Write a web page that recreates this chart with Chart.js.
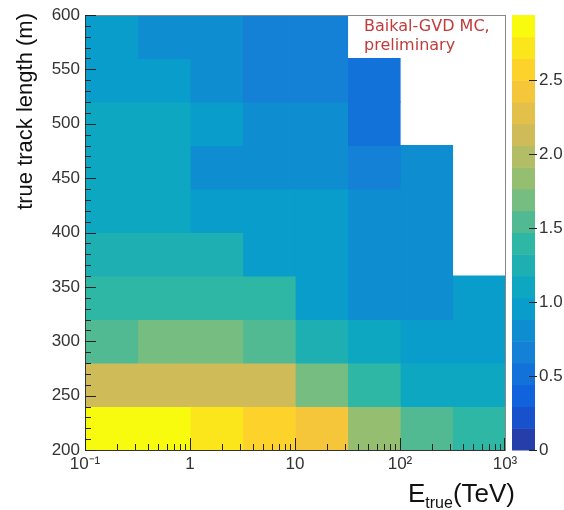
<!DOCTYPE html>
<html><head><meta charset="utf-8">
<script src="https://cdn.jsdelivr.net/npm/chart.js@4.4.1/dist/chart.umd.min.js"></script>
<style>html,body{margin:0;padding:0;background:#fff;}#wrap{width:564px;height:510px;}</style>
</head><body><div id="wrap"><canvas id="c" width="564" height="510"></canvas></div>
<script>
// ---- data ----
const energyEdges = [0.1, 0.316, 1, 3.16, 10, 31.6, 100, 316, 1000];
const lengthEdges = [200, 240, 280, 320, 360, 400, 440, 480, 520, 560, 600];
const rowLabels = ['200-240','240-280','280-320','320-360','360-400','400-440','440-480','480-520','520-560','560-600'];
// rows bottom-up, columns left-right (energy bins); null = empty
const row200 = [2.92, 2.90, 2.75, 2.60, 2.40, 1.90, 1.50, 1.35];
const row240 = [2.20, 2.20, 2.20, 2.20, 1.70, 1.35, 1.10, 1.10];
const row280 = [1.55, 1.70, 1.70, 1.55, 1.25, 1.10, 0.95, 0.95];
const row320 = [1.40, 1.40, 1.40, 1.40, 0.95, 0.80, 0.80, 0.95];
const row360 = [1.30, 1.30, 1.30, 1.00, 0.90, 0.80, 0.80, null];
const row400 = [1.15, 1.15, 1.00, 0.95, 0.90, 0.80, 0.80, null];
const row440 = [1.10, 1.05, 0.85, 0.85, 0.80, 0.65, 0.80, null];
const row480 = [1.05, 1.05, 0.95, 0.85, 0.80, 0.55, null, null];
const row520 = [1.00, 0.95, 0.80, 0.70, 0.60, 0.55, null, null];
const row560 = [0.95, 0.80, 0.80, 0.70, 0.60, null, null, null];
const cellRows = [row200, row240, row280, row320, row360, row400, row440, row480, row520, row560];

const yTickValues = [200, 250, 300, 350, 400, 450, 500, 550, 600];
const xTickValues = [0.1, 1, 10, 100, 1000];
const xTickLabels = ['10\u207B\u00B9', '1', '10', '10\u00B2', '10\u00B3'];
const zTickValues = [0, 0.5, 1, 1.5, 2, 2.5];
const zMax = 2.94;
const nContours = 20;

// ---- ROOT kBird palette ----
const birdStops = [0.0, 0.125, 0.25, 0.375, 0.5, 0.625, 0.75, 0.875, 1.0];
const birdR = [0.2082, 0.0592, 0.0780, 0.0232, 0.1802, 0.5301, 0.8186, 0.9956, 0.9764];
const birdG = [0.1664, 0.3599, 0.5041, 0.6419, 0.7178, 0.7492, 0.7328, 0.7862, 0.9832];
const birdB = [0.5293, 0.8684, 0.8385, 0.7914, 0.6425, 0.4662, 0.3499, 0.1968, 0.0539];
function bird(f) {
  f = Math.max(0, Math.min(1, f));
  let k = 0;
  while (k < birdStops.length - 2 && f > birdStops[k + 1]) k++;
  const t = (f - birdStops[k]) / (birdStops[k + 1] - birdStops[k]);
  const c = a => Math.round(255 * (a[k] + (a[k + 1] - a[k]) * t));
  return 'rgb(' + c(birdR) + ',' + c(birdG) + ',' + c(birdB) + ')';
}
function bandColor(i) { return bird((i + 0.99) / nContours); }
function valueColor(v) {
  const i = Math.min(nContours - 1, Math.max(0, Math.floor(v / zMax * nContours)));
  return bandColor(i);
}

// ---- datasets: one per energy column ----
const datasets = [];
for (let c = 0; c < energyEdges.length - 1; c++) {
  datasets.push({
    xAxisID: 'x', yAxisID: 'yCat',
    grouped: false, barPercentage: 1, categoryPercentage: 1,
    borderWidth: 0, inflateAmount: 0.6,
    data: cellRows.map(r => r[c] === null ? null : [energyEdges[c], energyEdges[c + 1]]),
    backgroundColor: cellRows.map(r => r[c] === null ? 'rgba(0,0,0,0)' : valueColor(r[c]))
  });
}

const FONT = '"Liberation Sans", Arial, Helvetica, sans-serif';
const TXT = '#333';

const rootPlugin = {
  id: 'rootDecor',
  afterDraw(chart) {
    const ctx = chart.ctx, a = chart.chartArea;
    const xs = chart.scales.x, ys = chart.scales.y, zs = chart.scales.z;
    ctx.save();
    // annotation box
    ctx.fillStyle = '#fff';
    ctx.fillRect(350, a.top + 1, a.right - 351, 42);
    ctx.fillStyle = '#c23b3b';
    ctx.font = '16px "DejaVu Sans", sans-serif';
    ctx.textBaseline = 'alphabetic';
    ctx.textAlign = 'left';
    ctx.fillText('Baikal-GVD MC,', 364, 31);
    ctx.fillText('preliminary', 364, 50);
    // frame
    ctx.lineWidth = 1;
    ctx.strokeStyle = '#888';
    ctx.strokeRect(Math.round(a.left) + 0.5, Math.round(a.top) + 0.5, Math.round(a.right - a.left), Math.round(a.bottom - a.top));
    ctx.strokeStyle = '#333';
    ctx.beginPath();
    ctx.moveTo(Math.round(a.left) + 0.5, a.top); ctx.lineTo(Math.round(a.left) + 0.5, Math.round(a.bottom) + 0.5);
    ctx.lineTo(a.right, Math.round(a.bottom) + 0.5);
    ctx.stroke();
    // inner ticks y
    ctx.strokeStyle = '#222';
    ctx.beginPath();
    for (let v = 200; v <= 600; v += 10) {
      const py = Math.round(ys.getPixelForValue(v)) + 0.5;
      const len = (v % 50 === 0) ? 11 : 6;
      ctx.moveTo(a.left, py); ctx.lineTo(a.left + len, py);
    }
    // inner ticks x (log)
    for (let d = 0.1; d < 999; d *= 10) {
      for (let k = 1; k <= 9; k++) {
        const v = d * k;
        const px = Math.round(xs.getPixelForValue(v)) + 0.5;
        const len = (k === 1) ? 12 : 6;
        ctx.moveTo(px, a.bottom); ctx.lineTo(px, a.bottom - len);
      }
    }
    const pxEnd = Math.round(xs.getPixelForValue(1000)) - 0.5;
    ctx.moveTo(pxEnd, a.bottom); ctx.lineTo(pxEnd, a.bottom - 12);
    ctx.stroke();
    // colour bar
    const cbL = 512, cbR = 535;
    for (let i = 0; i < nContours; i++) {
      const y0 = zs.getPixelForValue(i * zMax / nContours);
      const y1 = zs.getPixelForValue((i + 1) * zMax / nContours);
      ctx.fillStyle = bandColor(i);
      ctx.fillRect(cbL, y1, cbR - cbL, y0 - y1 + 0.5);
    }
    ctx.strokeStyle = '#222';
    ctx.beginPath();
    zTickValues.forEach(v => {
      const py = Math.round(zs.getPixelForValue(v)) + 0.5;
      ctx.moveTo(cbR - 6, py); ctx.lineTo(cbR + 2, py);
    });
    ctx.stroke();
    // y title
    ctx.fillStyle = '#111';
    ctx.font = '22px ' + FONT;
    ctx.save();
    ctx.translate(26, a.top - 2);
    ctx.rotate(-Math.PI / 2);
    ctx.textAlign = 'right';
    ctx.textBaseline = 'middle';
    ctx.fillText('true track length (m)', 0, 0);
    ctx.restore();
    // x title: E_true(TeV)
    ctx.textBaseline = 'alphabetic';
    ctx.textAlign = 'left';
    const bigF = '26px ' + FONT, smallF = '16px ' + FONT;
    ctx.font = bigF; const wE = ctx.measureText('E').width; const wT = ctx.measureText('(TeV)').width;
    ctx.font = smallF; const wS = ctx.measureText('true').width;
    const x0 = 515 - (wE + wS + wT);
    const base = 502;
    ctx.font = bigF; ctx.fillText('E', x0, base);
    ctx.font = smallF; ctx.fillText('true', x0 + wE, base + 6);
    ctx.font = bigF; ctx.fillText('(TeV)', x0 + wE + wS, base);
    ctx.restore();
  }
};

const noPad = s => { s.paddingTop = 0; s.paddingBottom = 0; };

new Chart(document.getElementById('c'), {
  type: 'bar',
  data: { labels: rowLabels, datasets: datasets },
  options: {
    indexAxis: 'y',
    responsive: false,
    animation: false,
    layout: { padding: { top: 15, left: 0, right: 0, bottom: 0 } },
    plugins: { legend: { display: false }, tooltip: { enabled: false } },
    scales: {
      x: {
        type: 'logarithmic', axis: 'x', position: 'bottom', offset: false,
        min: energyEdges[0], max: energyEdges[energyEdges.length - 1],
        grid: { display: false, drawTicks: false, offset: false }, border: { display: false },
        afterBuildTicks: s => { s.ticks = xTickValues.map(v => ({ value: v, major: true })); },
        ticks: { autoSkip: false, maxRotation: 0, padding: 4, color: TXT, font: { family: FONT, size: 17 },
          callback: (v, i) => xTickLabels[i] },
        afterFit: s => { s.height = 60; s.paddingLeft = 0; s.paddingRight = 0; }
      },
      yCat: { type: 'category', axis: 'y', display: false, reverse: true, offset: true, grid: { display: false } },
      y: {
        type: 'linear', axis: 'y', position: 'left', offset: false,
        min: lengthEdges[0], max: lengthEdges[lengthEdges.length - 1],
        grid: { display: false, drawTicks: false, offset: false }, border: { display: false },
        afterBuildTicks: s => { s.ticks = yTickValues.map(v => ({ value: v })); },
        ticks: { padding: 5, color: TXT, font: { family: FONT, size: 17 } },
        afterFit: s => { s.width = 85; noPad(s); }
      },
      z: {
        type: 'linear', axis: 'y', position: 'right', offset: false,
        min: 0, max: zMax,
        grid: { display: false, drawTicks: false, offset: false }, border: { display: false },
        afterBuildTicks: s => { s.ticks = zTickValues.map(v => ({ value: v })); },
        ticks: { padding: 34, color: TXT, font: { family: FONT, size: 17 } },
        afterFit: s => { s.width = 59; noPad(s); }
      }
    }
  },
  plugins: [rootPlugin]
});
</script></body></html>
